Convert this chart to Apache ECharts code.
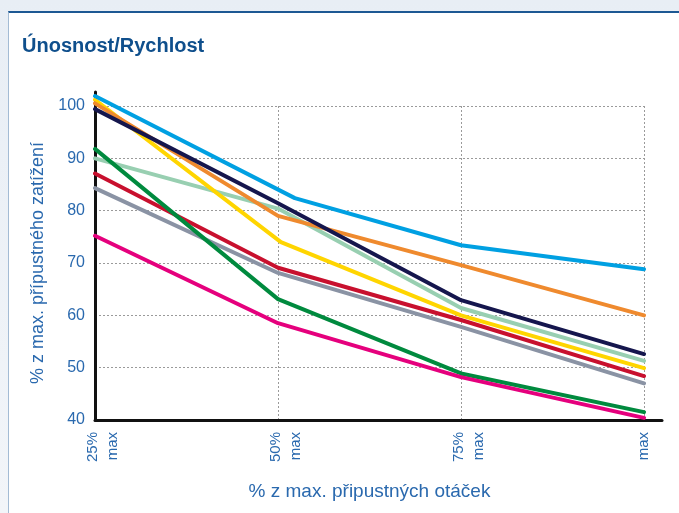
<!DOCTYPE html>
<html>
<head>
<meta charset="utf-8">
<script src="https://cdn.jsdelivr.net/npm/echarts@6/dist/echarts.min.js"></script>
<style>
    body { margin: 0; width: 679px; height: 513px; overflow: hidden; background: linear-gradient(#e8eef5, #f2f5f9); }
    .panel { position: absolute; left: 8px; top: 11px; right: 0; bottom: 0; background: #fff; border-top: 2px solid #1d5893; border-left: 1px solid #a3bbd4; }
    #chart { position: absolute; left: 0; top: 0; width: 679px; height: 513px; }
</style>
</head>
<body>
<div class="panel"></div>
<div id="chart"></div>
<script>
    // osa x: % z max. otáček
    const xTicks = [25, 50, 75, 100];
    const xTickLabels = {25: '25%', 50: '50%', 75: '75%', 100: 'max'};

    // hodnoty čar [% otáček, % zatížení]
    const lightGreen = [[25, 90.0], [50, 80.4], [75, 61.4], [100, 51.3]];
    const gray = [[25, 84.3], [50, 68.1], [75, 57.8], [100, 47.0]];
    const red = [[25, 87.1], [50, 69.1], [75, 59.1], [100, 48.4]];
    const green = [[25, 91.8], [50, 63.1], [75, 48.9], [100, 41.5]];
    const pink = [[25, 75.2], [50, 58.5], [75, 48.2], [100, 40.4]];
    const yellow = [[25, 101.2], [50.4, 74.0], [75, 60.0], [100, 49.9]];
    const orange = [[25, 100.5], [50, 79.0], [75, 69.6], [100, 60.0]];
    const navy = [[25, 99.4], [50, 81.4], [75, 62.9], [100, 52.6]];
    const cyan = [[25, 101.9], [52.3, 82.4], [75, 73.4], [100, 68.8]];

    const blue = '#2a69ae';
    const dash = {color: '#9a9a9a', type: [2, 2], width: 1};

    function line(data, color) {
        return {
            type: 'line',
            xAxisIndex: 0,
            yAxisIndex: 0,
            data: data,
            clip: false,
            symbol: 'none',
            silent: true,
            lineStyle: {color: color, width: 4, join: 'round', cap: 'round'}
        };
    }

    const chart = echarts.init(document.getElementById('chart'));
    chart.setOption({
        animation: false,
        title: {
            text: 'Únosnost/Rychlost',
            left: 17,
            top: 31,
            textStyle: {color: '#0f4f8c', fontSize: 20, fontWeight: 'bold', fontFamily: '"Liberation Sans", Arial'}
        },
        grid: [
            {left: 95, right: 35, top: 106, bottom: 93},
            {left: 95, right: 17, top: 92, bottom: 93}
        ],
        xAxis: [{
            gridIndex: 0,
            type: 'value',
            min: 25,
            max: 100,
            interval: 25,
            axisLine: {show: false},
            axisTick: {show: false},
            splitLine: {show: true, lineStyle: dash},
            axisLabel: {
                rotate: 90,
                margin: 12,
                color: blue,
                fontSize: 15,
                fontFamily: '"Liberation Sans", Arial',
                formatter: v => v === 100 ? xTickLabels[v] : '{a|' + xTickLabels[v] + '}\n{b|max}',
                rich: {
                    a: {fontSize: 15, lineHeight: 35, color: blue, fontFamily: '"Liberation Sans", Arial'},
                    b: {fontSize: 15, lineHeight: 4, color: blue, fontFamily: '"Liberation Sans", Arial'}
                }
            },
            name: '% z max. připustných otáček',
            nameLocation: 'middle',
            nameGap: 62,
            nameTextStyle: {color: blue, fontSize: 19, fontFamily: '"Liberation Sans", Arial'}
        }, {
            gridIndex: 1,
            type: 'value',
            min: 0,
            max: 1,
            axisLine: {show: true, onZero: false, lineStyle: {color: '#111', width: 3}},
            axisTick: {show: false},
            axisLabel: {show: false},
            splitLine: {show: false}
        }],
        yAxis: [{
            gridIndex: 0,
            type: 'value',
            min: 40,
            max: 100,
            interval: 10,
            axisLine: {show: false},
            axisTick: {show: false},
            splitLine: {show: true, lineStyle: dash},
            axisLabel: {color: blue, fontSize: 16, margin: 10, fontFamily: '"Liberation Sans", Arial'},
            name: '% z max. přípustného zatížení',
            nameLocation: 'middle',
            nameGap: 48,
            nameTextStyle: {color: blue, fontSize: 18, fontFamily: '"Liberation Sans", Arial'}
        }, {
            gridIndex: 1,
            type: 'value',
            min: 0,
            max: 1,
            axisLine: {show: true, onZero: false, lineStyle: {color: '#111', width: 3}},
            axisTick: {show: false},
            axisLabel: {show: false},
            splitLine: {show: false}
        }],
        series: [
            line(lightGreen, '#98cfb1'),
            line(gray, '#8a93a4'),
            line(red, '#c8102e'),
            line(green, '#008a3e'),
            line(pink, '#e5007d'),
            line(yellow, '#ffd500'),
            line(orange, '#ef8a2e'),
            line(navy, '#15164d'),
            line(cyan, '#00a0e2')
        ]
    });
</script>
</body>
</html>
